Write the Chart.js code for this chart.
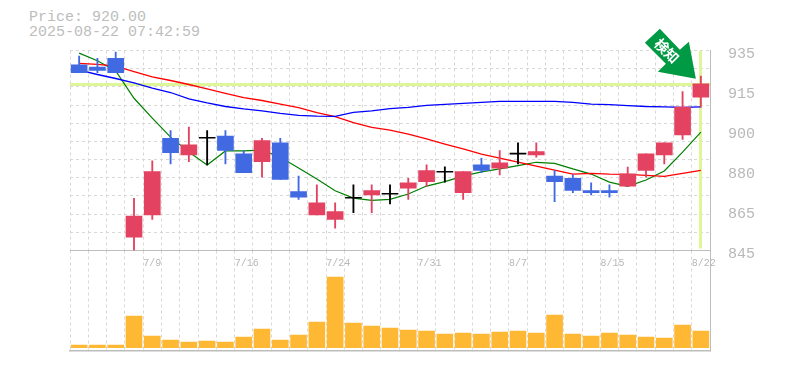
<!DOCTYPE html>
<html>
<head>
<meta charset="utf-8">
<script src="https://cdn.jsdelivr.net/npm/chart.js@4"></script>
<style>
    body { margin: 0; background: #fff; }
    canvas { position: absolute; left: 0; top: 0; }
    .head { position: absolute; left: 29px; color: #bdbdbd; font: 15px "Liberation Mono", monospace; white-space: pre; }
</style>
</head>
<body>
<div class="head" style="top:9px">Price: 920.00</div>
<div class="head" style="top:24px">2025-08-22 07:42:59</div>
<canvas id="volumeChart" width="785" height="370"></canvas>
<canvas id="priceChart" width="785" height="370"></canvas>
<script>
const dates = ['7/3','7/4','7/7','7/8','7/9','7/10','7/11','7/14','7/15','7/16','7/17','7/18','7/22','7/23','7/24','7/25','7/28','7/29','7/30','7/31','8/1','8/4','8/5','8/6','8/7','8/8','8/12','8/13','8/14','8/15','8/18','8/19','8/20','8/21','8/22'];
const shownDates = ['7/9','7/16','7/24','7/31','8/7','8/15','8/22'];

const opens  = [928.5,927.5,931.5,851,861,895.5,888,895.5,896.5,888.5,885,893.5,871.5,861,859,868.5,870,870.3,873,876,880.2,871,883.5,882,888.4,888,878.5,877.5,872,872,874,881,888,897,914];
const closes = [925,926,925,860.5,880.5,889,892.5,895.5,890,880,894.5,877,869,866.5,862.5,868.5,872,870.3,875.5,881,880.2,880.5,881,884.5,888.4,889.5,876,872,871,871,879.5,888.5,893.5,909.5,920];
const highs  = [932.5,931.5,934.3,868.5,885.3,899,900.5,899,899,890,895.5,895.5,878.5,874.5,866.5,874.5,874.5,874.5,877.5,883.5,882.6,880.5,886.5,890,893.4,893.5,881,879,875.5,874.5,882.5,888.5,893.5,916.5,923.5];
const lows   = [925,925,925,845,859,884,885,883.5,884,880,878,877,868,861,855,862,862,866,868,874,875.8,868,880,879,884,887,867,871,870,869,874,878,884,895,909.5];

const shortAvg = [933.8,930.4,925.8,913.5,904.6,896,889.3,883.5,889.8,889.8,890.2,887,882.1,877.2,871.9,868.6,867.6,868,870.4,874,876,878.5,880.4,881.7,883.2,884.7,884.2,881.7,879.4,875.8,873.9,876.7,880.8,889.3,898.3];
const midAvg   = [929.2,928.8,928,925.5,923.1,921.5,919.7,917.7,915.7,913.8,912.5,910.9,909.3,907,905.2,902.5,900.4,899.2,897.4,895.2,892.9,890.7,888.4,886.6,884.8,883,881.2,879.4,879.7,879.4,879.3,878.8,878.4,879.7,881.1];
const longAvg  = [926.2,924.2,922.4,920.4,918.1,916.1,913.2,911.4,909.8,908.7,907.8,906.7,905.8,905.5,905.4,907.2,907.8,908.8,909.4,910.3,910.8,911.2,911.7,912.1,912.1,912.1,912.1,911.7,910.9,910.6,910.2,909.8,909.6,909.4,909.6];

const volumes = [800,800,800,9500,3500,2300,1700,2000,1700,3200,5600,2300,3800,7700,21200,7400,6500,5900,5300,5000,4100,4400,4100,4700,5000,4400,9800,4100,3500,4400,3800,3200,2900,6800,5000];

const priceTicks  = [935,917,899,881,863,845];
const priceLabels = ['935','915','900','880','865','845'];
const lastPrice = 920;

const GRID = '#d8d8d8';
const FRAME = '#bdbdbd';
const TEXT = '#b8b8b8';
const MONO = '"Liberation Mono", monospace';

Chart.defaults.animation = false;

function candleColor(i) {
    if (closes[i] > opens[i]) return '#e34360';
    if (closes[i] < opens[i]) return '#4169e1';
    return '#000';
}

// yellow cross at the latest price, under the candles
const crossPlugin = {
    id: 'cross',
    beforeDatasetsDraw(chart) {
        const { ctx, chartArea, scales } = chart;
        const x = Math.round(scales.x.getPixelForValue(dates.length - 1)) - 0.5;
        const y = Math.round(scales.y.getPixelForValue(lastPrice)) + 0.5;
        ctx.save();
        ctx.strokeStyle = '#dff59a';
        ctx.lineWidth = 3;
        ctx.beginPath();
        ctx.moveTo(chartArea.left, y);
        ctx.lineTo(chartArea.right, y);
        ctx.moveTo(x, chartArea.top);
        ctx.lineTo(x, chartArea.bottom - 2);
        ctx.stroke();
        ctx.restore();
    }
};

// green arrow pointing at the last candle
const arrowPlugin = {
    id: 'arrow',
    afterDatasetsDraw(chart) {
        const { ctx, scales } = chart;
        const tipX = scales.x.getPixelForValue(dates.length - 1) - 5;
        const tipY = scales.y.getPixelForValue(lastPrice) - 5;
        const shape = [[0,0],[-38,-7],[-30,-15],[-51,-36],[-36,-50],[-16,-29],[-7,-37]];
        ctx.save();
        ctx.fillStyle = '#009944';
        ctx.beginPath();
        shape.forEach((p, i) => i ? ctx.lineTo(tipX + p[0], tipY + p[1]) : ctx.moveTo(tipX + p[0], tipY + p[1]));
        ctx.closePath();
        ctx.fill();
        ctx.translate(tipX - 29, tipY - 28);
        ctx.rotate(Math.PI / 4);
        ctx.fillStyle = '#fff';
        ctx.font = 'bold 14px "Noto Sans CJK JP"';
        ctx.textAlign = 'center';
        ctx.textBaseline = 'middle';
        ctx.fillText('検知', 0, 0);
        ctx.restore();
    }
};

new Chart(document.getElementById('priceChart'), {
    type: 'bar',
    plugins: [crossPlugin, arrowPlugin],
    data: {
        labels: dates,
        datasets: [
            { type: 'line', data: longAvg, borderColor: '#0000ff', borderWidth: 1.3, pointRadius: 0, order: 3, yAxisID: 'y' },
            { type: 'line', data: midAvg, borderColor: '#ff0000', borderWidth: 1.3, pointRadius: 0, order: 3, yAxisID: 'y' },
            { type: 'line', data: shortAvg, borderColor: '#008000', borderWidth: 1.2, pointRadius: 0, order: 3, yAxisID: 'y' },
            {
                data: highs.map((h, i) => [lows[i], h]),
                backgroundColor: dates.map((d, i) => candleColor(i)),
                barThickness: 1.2, grouped: false, order: 2, yAxisID: 'y'
            },
            {
                data: opens.map((o, i) => [o, closes[i]]),
                backgroundColor: dates.map((d, i) => candleColor(i)),
                barThickness: 16, minBarLength: 1, grouped: false, order: 1, yAxisID: 'y'
            }
        ]
    },
    options: {
        responsive: false,
        layout: { padding: { left: 70, top: 50.5 } },
        plugins: { legend: { display: false }, tooltip: { enabled: false } },
        scales: {
            x: {
                afterFit(axis) { axis.height = 119.5; },
                grid: { color: GRID, offset: true, tickLength: 0 },
                border: { color: FRAME, width: 1, dash: [3, 3] },
                ticks: {
                    autoSkip: false, maxRotation: 0, align: 'start', labelOffset: -9, padding: 7,
                    color: TEXT, font: { family: MONO, size: 10 },
                    callback(value, i) { return shownDates.includes(dates[i]) ? dates[i] : ''; }
                }
            },
            y: {
                position: 'right', min: 845, max: 935,
                afterFit(axis) { axis.width = 75; },
                afterBuildTicks(axis) { axis.ticks = priceTicks.map(value => ({ value })); },
                grid: { display: false },
                border: { color: FRAME, width: 1 },
                ticks: {
                    padding: 10, labelOffset: 3.5, color: TEXT, font: { family: MONO, size: 15 },
                    callback(value) { return priceLabels[priceTicks.indexOf(value)]; }
                }
            },
            yGrid: {
                position: 'right', min: 845, max: 935,
                afterFit(axis) { axis.width = 0; },
                grid: { color: GRID, tickLength: 0 },
                border: { display: false, dash: [3, 3] },
                ticks: { display: false, count: 12 }
            }
        }
    }
});

new Chart(document.getElementById('volumeChart'), {
    type: 'bar',
    data: {
        labels: dates,
        datasets: [{ data: volumes, backgroundColor: '#ffb833', barThickness: 16 }]
    },
    options: {
        responsive: false,
        layout: { padding: { left: 70, top: 250.5 } },
        plugins: { legend: { display: false }, tooltip: { enabled: false } },
        scales: {
            x: {
                afterFit(axis) { axis.height = 19.5; },
                grid: { color: GRID, offset: true, tickLength: 0 },
                border: { color: FRAME, width: 1.5, dash: [3, 3] },
                ticks: { display: false }
            },
            y: {
                position: 'right', min: -840, max: 29160,
                afterFit(axis) { axis.width = 75; },
                grid: { display: false },
                border: { color: FRAME, width: 1 },
                ticks: { display: false }
            }
        }
    }
});
</script>
</body>
</html>
